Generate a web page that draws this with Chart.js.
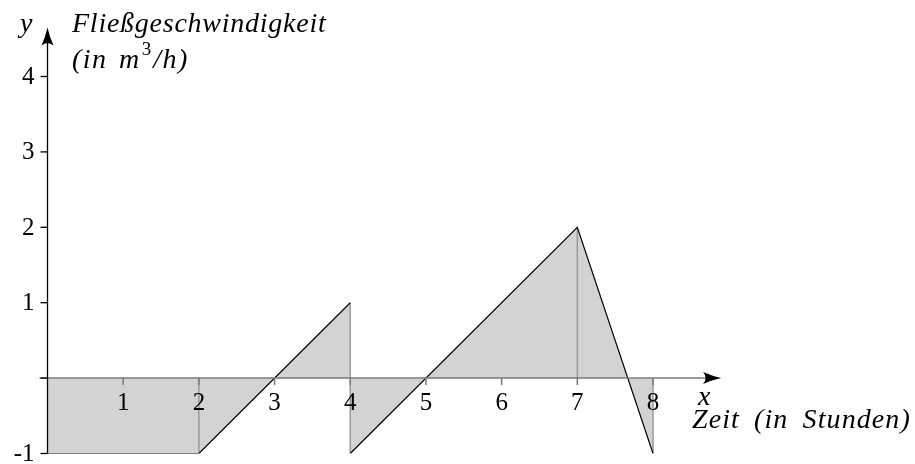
<!DOCTYPE html>
<html>
<head>
<meta charset="utf-8">
<script src="https://cdn.jsdelivr.net/npm/chart.js@4/dist/chart.umd.min.js"></script>
<style>
  html, body { margin: 0; padding: 0; background: #fff; }
  #wrap { width: 915px; height: 464px; position: relative; }
</style>
</head>
<body>
<div id="wrap"><canvas id="grafico"></canvas></div>
<script>
// Werte
const zeit = [0, 2, 4, 4, 7, 8]
const fluss = [-1, -1, 1, -1, 2, -1]
const xTicks = [1, 2, 3, 4, 5, 6, 7, 8]
const yTicks = [-1, 1, 2, 3, 4]
const stuetzen = [2, 4, 7, 8]   // graue senkrechte Linien

const serif = '"Liberation Serif", "DejaVu Serif", serif'

// Flaeche: alle Punkte durchgehend
let flaeche = zeit.map((x, i) => ({ x: x, y: fluss[i] }))

// Linie: Luecke beim Sprung
let linie = []
zeit.forEach((x, i) => {
    if (i > 0 && zeit[i - 1] === x) linie.push({ x: x, y: null })
    linie.push({ x: x, y: fluss[i] })
})

// senkrechte Linien von der Kurve bis zur x-Achse
let senkrecht = []
stuetzen.forEach(s => {
    let ys = zeit.map((x, i) => x === s ? fluss[i] : null).filter(v => v !== null)
    ys.push(0)
    senkrecht.push({ x: s, y: Math.min(...ys) }, { x: s, y: Math.max(...ys) }, { x: s, y: null })
})

const text = (ctx, s, x, y, ls, ws) => {
    ctx.letterSpacing = ls + 'px'
    ctx.wordSpacing = (ws || 0) + 'px'
    ctx.fillText(s, x, y)
    let w = ctx.measureText(s).width
    ctx.letterSpacing = '0px'
    ctx.wordSpacing = '0px'
    return w
}

const achsen = {
    id: 'achsen',
    afterDatasetsDraw(chart) {
        const ctx = chart.ctx
        const sx = chart.scales.x
        const sy = chart.scales.y
        const x0 = sx.getPixelForValue(0)
        const y0 = sy.getPixelForValue(0)
        const yMinus = sy.getPixelForValue(-1)
        ctx.save()

        // x-Achse
        ctx.strokeStyle = '#7a7a7a'
        ctx.lineWidth = 1.5
        ctx.beginPath()
        ctx.moveTo(x0 - 8, y0)
        ctx.lineTo(sx.getPixelForValue(8.7), y0)
        ctx.stroke()
        // x-Ticks
        xTicks.forEach(t => {
            let px = sx.getPixelForValue(t)
            ctx.beginPath()
            ctx.moveTo(px, y0)
            ctx.lineTo(px, y0 + 7)
            ctx.stroke()
        })
        // Pfeil x
        let tipX = sx.getPixelForValue(8.9)
        ctx.fillStyle = '#000'
        ctx.beginPath()
        ctx.moveTo(tipX, y0)
        ctx.quadraticCurveTo(tipX - 9, y0 - 2, tipX - 18, y0 - 6)
        ctx.quadraticCurveTo(tipX - 13, y0, tipX - 18, y0 + 6)
        ctx.quadraticCurveTo(tipX - 9, y0 + 2, tipX, y0)
        ctx.fill()

        // y-Achse
        ctx.strokeStyle = '#000'
        ctx.lineWidth = 1.3
        let tipY = sy.getPixelForValue(4.65)
        ctx.beginPath()
        ctx.moveTo(x0, yMinus)
        ctx.lineTo(x0, tipY + 6)
        ctx.stroke()
        yTicks.concat([0]).forEach(t => {
            let py = sy.getPixelForValue(t)
            ctx.beginPath()
            ctx.moveTo(x0 - 7, py)
            ctx.lineTo(x0, py)
            ctx.stroke()
        })
        // Pfeil y
        ctx.beginPath()
        ctx.moveTo(x0, tipY)
        ctx.quadraticCurveTo(x0 - 2, tipY + 9, x0 - 6, tipY + 18)
        ctx.quadraticCurveTo(x0, tipY + 13, x0 + 6, tipY + 18)
        ctx.quadraticCurveTo(x0 + 2, tipY + 9, x0, tipY)
        ctx.fill()

        // Beschriftungen
        ctx.fillStyle = '#000'
        ctx.font = '25px ' + serif
        ctx.textAlign = 'center'
        ctx.textBaseline = 'alphabetic'
        xTicks.forEach(t => ctx.fillText(String(t), sx.getPixelForValue(t), y0 + 32))
        ctx.textAlign = 'right'
        ctx.textBaseline = 'middle'
        yTicks.forEach(t => ctx.fillText(String(t), x0 - 13, sy.getPixelForValue(t) + 1))

        ctx.font = 'italic 28px ' + serif
        ctx.textAlign = 'left'
        ctx.textBaseline = 'alphabetic'
        text(ctx, 'y', 20, 32, 0)
        text(ctx, 'Fließgeschwindigkeit', 72, 32, 0.75)
        let w = text(ctx, '(in m', 72, 68, 1.5, 3)
        ctx.font = '19px ' + serif
        let w3 = text(ctx, '3', 72 + w + 1, 55, 0)
        ctx.font = 'italic 28px ' + serif
        text(ctx, '/h)', 72 + w + w3 + 3, 68, 1.5)

        text(ctx, 'x', 698, 405, 0)
        text(ctx, 'Zeit (in Stunden)', 692, 428, 1.1, 6)
        ctx.restore()
    }
}

new Chart(document.getElementById('grafico'), {
    type: 'line',
    data: {
        datasets: [
            {
                label: 'Kurve',
                data: linie,
                borderColor: '#000',
                borderWidth: 1.2,
                pointRadius: 0,
                fill: false,
                spanGaps: false,
                order: 1
            }, {
                label: 'Senkrecht',
                data: senkrecht,
                borderColor: '#9a9a9a',
                borderWidth: 1.5,
                pointRadius: 0,
                fill: false,
                spanGaps: false,
                order: 2
            }, {
                label: 'Flaeche',
                data: flaeche,
                borderWidth: 0,
                borderColor: 'rgba(0,0,0,0)',
                backgroundColor: '#d3d3d3',
                pointRadius: 0,
                fill: 'origin',
                order: 3
            }
        ]
    },
    options: {
        responsive: true,
        maintainAspectRatio: false,
        animation: false,
        layout: { padding: { left: 47.5, right: 186.3, top: 38.8, bottom: 10.5 } },
        plugins: { legend: { display: false }, tooltip: { enabled: false }, title: { display: false } },
        scales: {
            x: { type: 'linear', min: 0, max: 9, display: false },
            y: { type: 'linear', min: -1, max: 4.5, display: false }
        },
        elements: { line: { tension: 0 } }
    },
    plugins: [achsen]
});
</script>
</body>
</html>
